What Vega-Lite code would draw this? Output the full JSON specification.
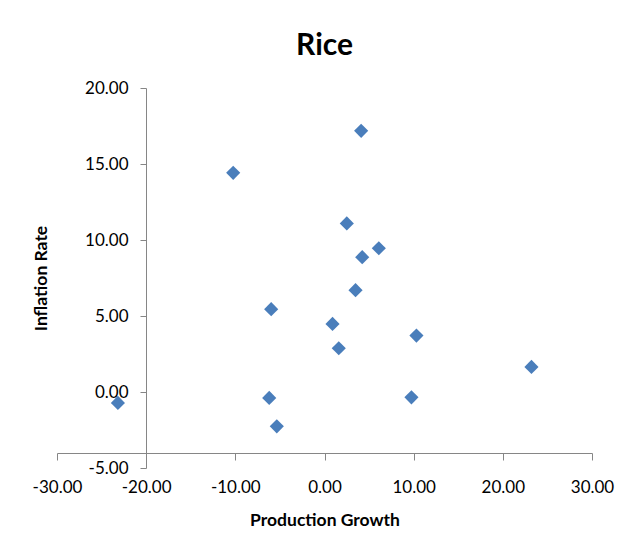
{
  "$schema": "https://vega.github.io/schema/vega-lite/v6.json",
  "autosize": "none",
  "width": 535,
  "height": 380,
  "padding": {"left": 57, "top": 88, "right": 34, "bottom": 81},
  "background": "white",
  "title": {"text": "Rice", "fontSize": 30, "font": "Lato", "fontWeight": "bold", "color": "black", "offset": 18, "anchor": "middle"},
  "data": {
    "values": [
      {"growth": 4.11, "inflation": 17.18},
      {"growth": -10.24, "inflation": 14.42},
      {"growth": 2.50, "inflation": 11.09},
      {"growth": 6.09, "inflation": 9.46},
      {"growth": 4.23, "inflation": 8.87},
      {"growth": 3.48, "inflation": 6.70},
      {"growth": -5.98, "inflation": 5.45},
      {"growth": 0.90, "inflation": 4.48},
      {"growth": 10.31, "inflation": 3.71},
      {"growth": 1.60, "inflation": 2.88},
      {"growth": 23.21, "inflation": 1.65},
      {"growth": -23.17, "inflation": -0.72},
      {"growth": -6.20, "inflation": -0.39},
      {"growth": 9.75, "inflation": -0.35},
      {"growth": -5.35, "inflation": -2.26}
    ]
  },
  "mark": {"type": "point", "shape": "diamond", "filled": true, "size": 200, "color": "#4A7EBB", "opacity": 1, "clip": false},
  "encoding": {
    "x": {
      "field": "growth", "type": "quantitative", "title": "Production Growth",
      "scale": {"domain": [-30, 30], "nice": false, "zero": false},
      "axis": {
        "values": [-30, -20, -10, 0, 10, 20, 30],
        "labelExpr": "replace(format(datum.value, '.2f'), '\u2212', '-')",
        "grid": false,
        "offset": -15, "tickSize": 7, "labelPadding": 19, "titlePadding": 16,
        "domainColor": "#868686", "tickColor": "#868686",
        "labelFont": "Lato", "labelFontSize": 17, "labelColor": "black",
        "titleFont": "Lato", "titleFontSize": 17.5, "titleFontWeight": "bold", "titleColor": "black",
        "labelFlush": false, "labelOverlap": false
      }
    },
    "y": {
      "field": "inflation", "type": "quantitative", "title": "Inflation Rate",
      "scale": {"domain": [-5, 20], "nice": false, "zero": false},
      "axis": {
        "values": [-5, 0, 5, 10, 15, 20],
        "labelExpr": "replace(format(datum.value, '.2f'), '\u2212', '-')",
        "grid": false,
        "offset": -89, "tickSize": 6, "labelPadding": 12, "titlePadding": 34,
        "domainColor": "#868686", "tickColor": "#868686",
        "labelFont": "Lato", "labelFontSize": 17, "labelColor": "black",
        "titleFont": "Lato", "titleFontSize": 17.5, "titleFontWeight": "bold", "titleColor": "black",
        "labelFlush": false, "labelOverlap": false
      }
    }
  },
  "config": {"view": {"stroke": null}}
}
